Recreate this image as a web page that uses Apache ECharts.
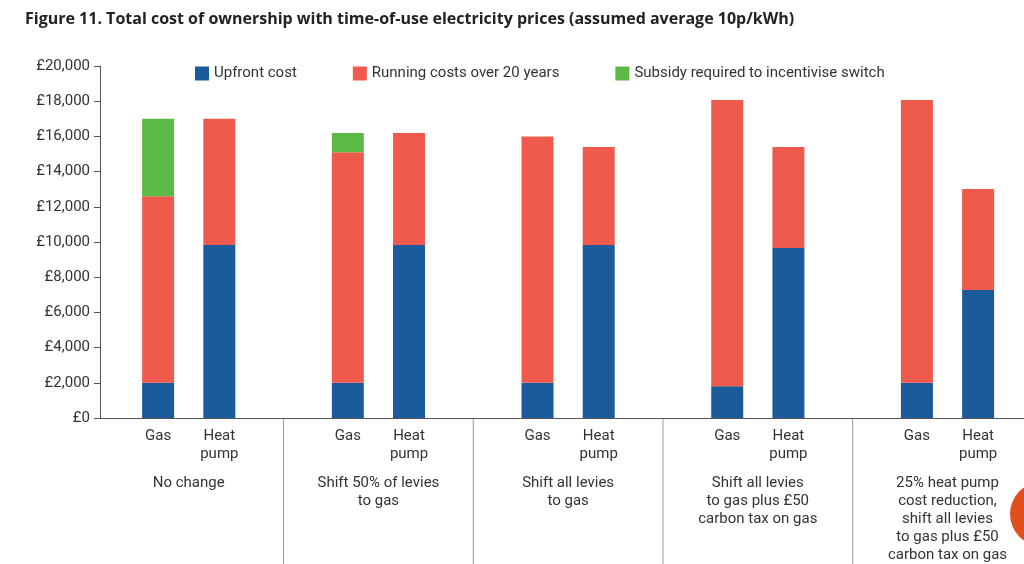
<!DOCTYPE html>
<html><head><meta charset="utf-8">
<script src="https://cdn.jsdelivr.net/npm/echarts@6/dist/echarts.min.js"></script>
<style>html,body{margin:0;padding:0;background:#fff}#c{width:1024px;height:564px}</style>
</head><body><div id="c"></div>
<script>
// scenarios, each has a Gas bar and a Heat pump bar
const scenarios = ['No change', 'Shift 50% of levies\nto gas', 'Shift all levies\nto gas',
  'Shift all levies\nto gas plus £50\ncarbon tax on gas',
  '25% heat pump\ncost reduction,\nshift all levies\nto gas plus £50\ncarbon tax on gas'];
const techs = ['Gas', 'Heat\npump'];
// values ordered gas1, hp1, gas2, hp2, ...
const upfront = [2000, 9830, 2000, 9830, 2000, 9830, 1800, 9660, 2000, 7270];
const running = [10600, 7170, 13100, 6370, 14000, 5570, 16270, 5740, 16070, 5740];
const subsidy = [4400, 0, 1100, 0, 0, 0, 0, 0, 0, 0];

// fine-grained hidden category slots so groups can be spaced apart
const nSlots = 151, pad = 9, groupStep = 31;
const slotOf = i => pad + Math.floor(i / 2) * groupStep + (i % 2) * 10;
const slots = Array.from({ length: nSlots }, (_, i) => String(i));
const fill = arr => { const a = new Array(nSlots).fill('-'); arr.forEach((v, i) => a[slotOf(i)] = v); return a; };

const chart = echarts.init(document.getElementById('c'));
const font = 'Roboto, "Open Sans", sans-serif';
const bar = (name, data, color) => ({
  name, type: 'bar', stack: 'a', data: fill(data), barWidth: 32,
  itemStyle: { color }, emphasis: { disabled: true }
});
chart.setOption({
  animation: false,
  title: { text: 'Figure 11. Total cost of ownership with time-of-use electricity prices (assumed average 10p/kWh)',
    left: 20, top: 6, textStyle: { fontSize: 16, fontWeight: 'bold', color: '#222', fontFamily: '"Open Sans", sans-serif' } },
  legend: { top: 61, left: 190, itemWidth: 14, itemHeight: 14, itemGap: 56, icon: 'rect',
    textStyle: { fontSize: 15, color: '#333', fontFamily: font } },
  grid: { left: 100, right: 0, top: 66, bottom: 146 },
  xAxis: { type: 'category', data: slots, axisLabel: { show: false }, splitLine: { show: false },
    axisTick: { show: false }, axisLine: { show: true, lineStyle: { color: '#555' } } },
  yAxis: { type: 'value', min: 0, max: 20000, interval: 2000, splitLine: { show: false },
    axisLine: { show: true, lineStyle: { color: '#555' } }, axisTick: { show: true, length: 6, lineStyle: { color: '#555' } },
    axisLabel: { fontSize: 15, color: '#333', fontFamily: font, margin: 10,
      formatter: v => '£' + v.toLocaleString('en-GB') } },
  series: [bar('Upfront cost', upfront, '#1b5a9b'),
    bar('Running costs over 20 years', running, '#ef5a4d'),
    bar('Subsidy required to incentivise switch', subsidy, '#5cb946')]
});

const px = s => chart.convertToPixel({ xAxisIndex: 0 }, s);
const base = chart.convertToPixel({ yAxisIndex: 0 }, 0);
const g = [];
upfront.forEach((_, i) => g.push({ type: 'text', x: px(slotOf(i)), y: base + 9,
  style: { text: techs[i % 2], fill: '#333', font: '15px ' + font, textAlign: 'center', lineHeight: 18 } }));
scenarios.forEach((s, k) => {
  const mid = (px(slotOf(2 * k)) + px(slotOf(2 * k + 1))) / 2;
  g.push({ type: 'text', x: mid, y: base + 56,
    style: { text: s, fill: '#333', font: '15px ' + font, textAlign: 'center', lineHeight: 18 } });
  if (k > 0) {
    const sx = (px(slotOf(2 * k - 1)) + px(slotOf(2 * k))) / 2;
    g.push({ type: 'line', shape: { x1: sx, y1: base, x2: sx, y2: 564 }, style: { stroke: '#999', lineWidth: 1 } });
  }
});
g.push({ type: 'circle', shape: { cx: 1042, cy: 514, r: 32 }, style: { fill: '#e0501f' } });
chart.setOption({ graphic: g });
</script></body></html>
